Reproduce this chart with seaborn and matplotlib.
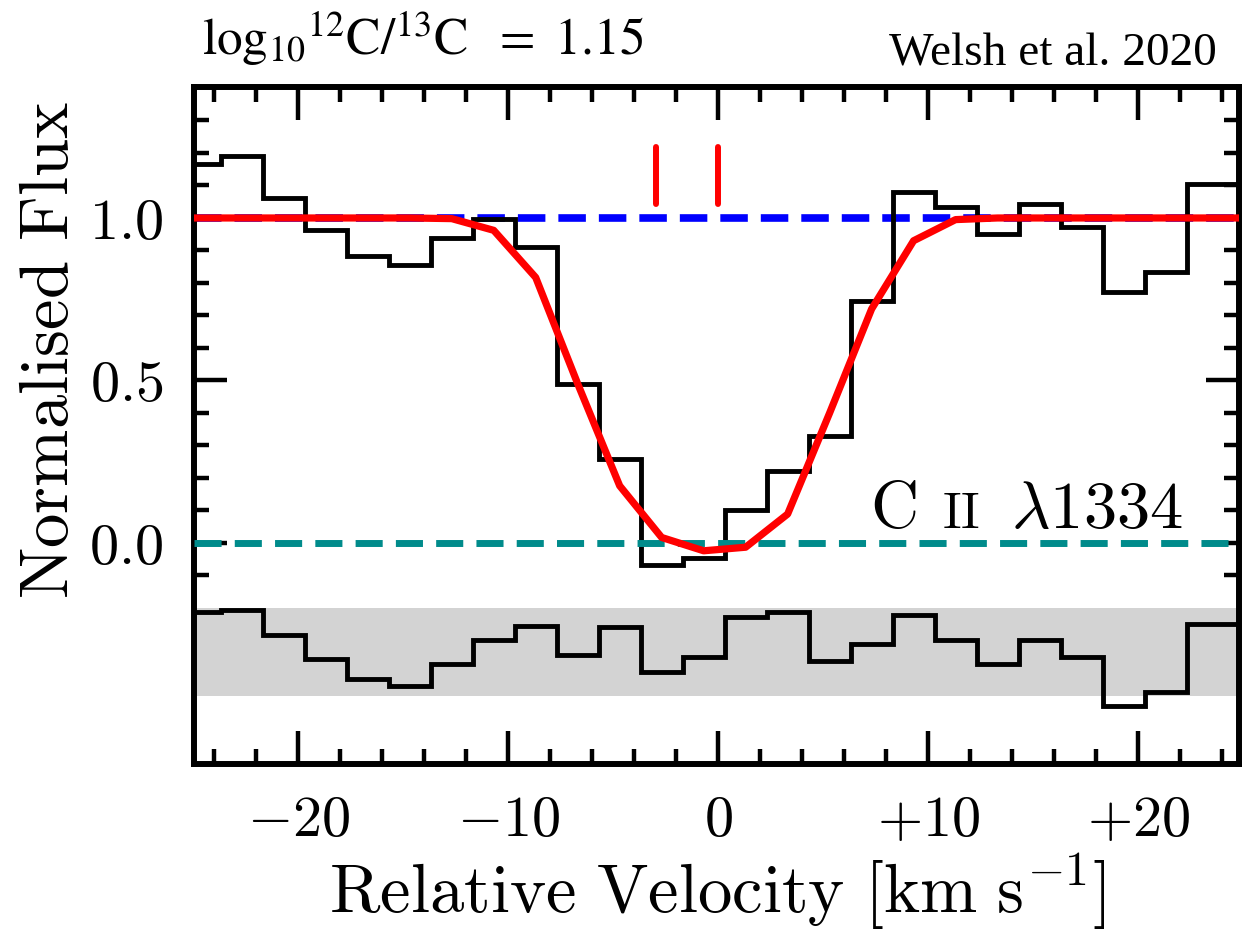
import numpy as np
import pandas as pd
import seaborn as sns
import matplotlib
matplotlib.use("Agg")
import matplotlib.pyplot as plt
from matplotlib.ticker import FixedLocator, FixedFormatter

# ---- spectrum (bin centres in km/s) ----
bin_velocity = [-24.7, -22.7, -20.7, -18.7, -16.7, -14.7, -12.7, -10.7, -8.7, -6.7,
                -4.7, -2.7, -0.7, 1.3, 3.3, 5.3, 7.3, 9.3, 11.3, 13.3,
                15.3, 17.3, 19.3, 21.3, 23.3, 25.3]
flux = [1.166, 1.190, 1.062, 0.962, 0.884, 0.856, 0.938, 0.998, 0.910, 0.490,
        0.258, -0.067, -0.047, 0.100, 0.222, 0.330, 0.746, 1.080, 1.034, 0.952,
        1.042, 0.972, 0.772, 0.834, 1.106, 1.106]
residual = [-0.213, -0.205, -0.283, -0.357, -0.418, -0.441, -0.372, -0.300, -0.256, -0.345,
            -0.260, -0.396, -0.350, -0.229, -0.213, -0.362, -0.311, -0.222, -0.300, -0.372,
            -0.300, -0.350, -0.503, -0.457, -0.249, -0.249]

# ---- best-fit model ----
model_velocity = [-26.7, -24.7, -22.7, -20.7, -18.7, -16.7, -14.7, -12.7, -10.7, -8.7,
                  -6.7, -4.7, -2.7, -0.7, 1.3, 3.3, 5.3, 7.3, 9.3, 11.3,
                  13.3, 15.3, 17.3, 19.3, 21.3, 23.3, 25.3]
model_flux = [1.0, 1.0, 1.0, 1.0, 1.0, 1.0, 1.0, 0.998, 0.962, 0.817,
              0.490, 0.176, 0.017, -0.024, -0.013, 0.089, 0.400, 0.720, 0.930, 0.995,
              1.0, 1.0, 1.0, 1.0, 1.0, 1.0, 1.0]

# velocity components (13C and 12C)
component_velocity = [-2.95, 0.0]

residual_band = (-0.47, -0.20)
continuum_level = 1.0
zero_level = 0.0

x_major = [-20, -10, 0, 10, 20]
x_major_labels = [r"$-20$", r"$-10$", r"$0$", r"$+10$", r"$+20$"]
y_major = [0.0, 0.5, 1.0]
y_major_labels = [r"$0.0$", r"$0.5$", r"$1.0$"]

# ---- style ----
sns.set_theme(style="ticks")
plt.rcParams["font.family"] = ["Liberation Serif", "DejaVu Serif"]
plt.rcParams["mathtext.fontset"] = "cm"
plt.rcParams["text.color"] = "black"
plt.rcParams["axes.labelcolor"] = "black"
plt.rcParams["xtick.color"] = "black"
plt.rcParams["ytick.color"] = "black"

W, H = 1247, 945
fig = plt.figure(figsize=(W / 100, H / 100), dpi=100)
ax = fig.add_axes([193.5 / W, 1 - 765 / H, (1239 - 193.5) / W, (765 - 88) / H])

# stair edges from bin centres
centres = np.asarray(bin_velocity)
edges = np.append(centres - 1.0, centres[-1] + 1.0)
spec = pd.DataFrame({"v": edges, "flux": np.append(flux, flux[-1]),
                     "resid": np.append(residual, residual[-1])})
model = pd.DataFrame({"v": model_velocity, "flux": model_flux})

ax.axhspan(*residual_band, color="#d3d3d3", lw=0, zorder=1)
ax.axhline(continuum_level, color="#0000ff", lw=5.5, ls=(0, (3.6, 1.7)), zorder=2)
ax.axhline(zero_level, color="#008b8b", lw=5.0, ls=(0, (3.9, 1.9)), zorder=4)

sns.lineplot(data=spec, x="v", y="flux", drawstyle="steps-post", color="black",
             lw=3.5, estimator=None, sort=False, ax=ax, zorder=3,
             solid_joinstyle="miter")
sns.lineplot(data=spec, x="v", y="resid", drawstyle="steps-post", color="black",
             lw=3.5, estimator=None, sort=False, ax=ax, zorder=3,
             solid_joinstyle="miter")
sns.lineplot(data=model, x="v", y="flux", color="#ff0000", lw=5.2,
             estimator=None, sort=False, ax=ax, zorder=5)

ax.vlines(component_velocity, 1.044, 1.219, color="#ff0000", lw=4.3,
          capstyle="round", zorder=5)

ax.set_xlim(-25.0, 24.8)
ax.set_ylim(-0.68, 1.403)

# ticks
ax.xaxis.set_major_locator(FixedLocator(x_major))
ax.xaxis.set_major_formatter(FixedFormatter(x_major_labels))
ax.xaxis.set_minor_locator(FixedLocator(np.arange(-24, 25, 2)))
ax.yaxis.set_major_locator(FixedLocator(y_major))
ax.yaxis.set_major_formatter(FixedFormatter(y_major_labels))
ax.yaxis.set_minor_locator(FixedLocator([-0.1, 0.1, 0.2, 0.3, 0.4, 0.6, 0.7, 0.8, 0.9,
                                         1.1, 1.2, 1.3]))
ax.tick_params(which="both", direction="in", top=True, right=True, width=3.2,
               color="black", labelcolor="black")
ax.tick_params(which="major", length=24, labelsize=42, pad=22)
ax.tick_params(which="minor", length=11)
for s in ax.spines.values():
    s.set_linewidth(4.3)
    s.set_color("black")

ax.set_xlabel(r"$\mathrm{Relative\ Velocity\ [km\ s^{-1}]}$", fontsize=49.5,
              color="black")
ax.set_ylabel(r"$\mathrm{Normalised\ Flux}$", fontsize=49.5, color="black")
ax.xaxis.set_label_coords(0.5015, -0.128)
ax.yaxis.set_label_coords(-0.106, 0.613)

# transition label
ax.text(7.24, 0.049, r"$\mathrm{C}$", fontsize=48, ha="left", va="baseline", zorder=6)
ax.text(10.67, 0.049, r"$\mathrm{II}$", fontsize=37, ha="left", va="baseline", zorder=6)
ax.text(13.95, 0.049, r"$\lambda1334$", fontsize=48, ha="left", va="baseline", zorder=6)

# header texts
fig.text(0.162, 0.942,
         r"$\mathrm{log}_{10}{}^{12}\mathrm{C/}{}^{13}\mathrm{C}\ \ \mathrm{=\ 1.15}$",
         math_fontfamily="stix", fontsize=37, ha="left", va="baseline")
fig.text(0.976, 0.931, "Welsh et al. 2020", fontfamily="Liberation Serif",
         fontsize=34, ha="right", va="baseline")

fig.savefig("out.png", dpi=100)
